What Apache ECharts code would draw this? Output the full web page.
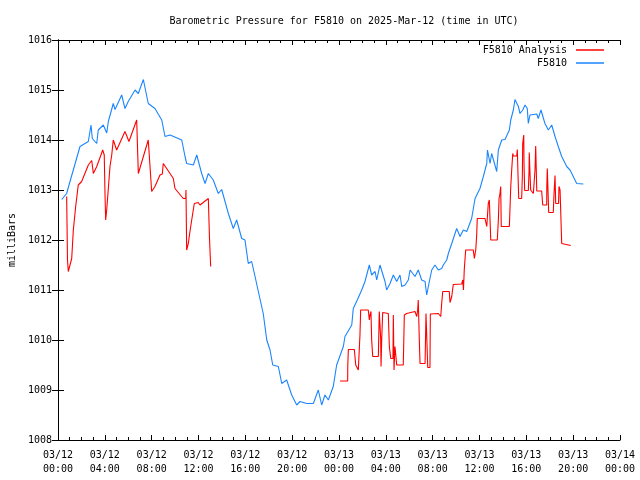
<!DOCTYPE html>
<html>
<head>
<meta charset="utf-8">
<script src="https://cdn.jsdelivr.net/npm/echarts@6/dist/echarts.min.js"></script>
<style>html,body{margin:0;padding:0;background:#fff}#c{width:640px;height:480px}</style>
</head>
<body>
<div id="c"></div>
<script>
// hours since 2025-03-12 00:00 UTC
var xTickLabels = ['03/12\n00:00','03/12\n04:00','03/12\n08:00','03/12\n12:00','03/12\n16:00','03/12\n20:00','03/13\n00:00','03/13\n04:00','03/13\n08:00','03/13\n12:00','03/13\n16:00','03/13\n20:00','03/14\n00:00'];

var obsHours = [0.32,0.74,0.94,1.88,2.59,2.82,2.93,3.31,3.44,3.87,4.16,4.30,4.72,4.87,5.44,5.72,6.00,6.58,6.86,7.29,7.71,8.28,8.86,9.14,9.57,10.57,10.85,10.99,11.56,11.85,12.27,12.56,12.84,13.26,13.69,13.98,14.55,14.97,15.26,15.69,15.97,16.25,16.54,16.83,17.11,17.53,17.83,18.11,18.34,18.82,19.11,19.53,19.96,20.39,20.67,21.24,21.81,22.23,22.52,22.80,23.09,23.51,23.80,24.37,24.51,25.09,25.22,25.56,25.94,26.22,26.59,26.79,27.08,27.22,27.50,27.93,28.07,28.36,28.64,28.93,29.21,29.36,29.64,29.92,30.07,30.49,30.77,31.06,31.35,31.49,31.63,31.92,32.20,32.48,32.77,32.91,33.20,33.34,33.63,33.91,34.05,34.34,34.62,34.91,35.33,35.62,36.04,36.33,36.62,36.68,36.90,37.04,37.47,37.61,37.90,38.18,38.55,38.67,38.89,39.03,39.32,39.46,39.69,39.89,40.08,40.17,40.31,40.89,41.02,41.25,41.59,41.88,42.17,42.45,42.73,43.02,43.45,43.73,44.01,44.30,44.87];
var obsValues = [1012.81,1012.93,1013.1,1013.87,1013.97,1014.3,1014.03,1013.93,1014.2,1014.3,1014.14,1014.37,1014.73,1014.61,1014.9,1014.63,1014.77,1015.0,1014.93,1015.21,1014.73,1014.63,1014.4,1014.07,1014.1,1014.0,1013.67,1013.53,1013.5,1013.7,1013.33,1013.13,1013.33,1013.2,1012.93,1013.01,1012.53,1012.23,1012.4,1012.03,1012.0,1011.53,1011.57,1011.27,1010.97,1010.53,1010.0,1009.8,1009.5,1009.47,1009.13,1009.2,1008.9,1008.7,1008.77,1008.73,1008.73,1009.0,1008.7,1008.9,1008.8,1009.07,1009.5,1009.87,1010.07,1010.3,1010.63,1010.8,1011.0,1011.17,1011.5,1011.3,1011.37,1011.2,1011.5,1011.17,1011.0,1011.13,1011.3,1011.17,1011.3,1011.07,1011.1,1011.2,1011.4,1011.27,1011.4,1011.2,1011.17,1010.9,1011.07,1011.4,1011.5,1011.4,1011.43,1011.5,1011.6,1011.73,1011.93,1012.13,1012.23,1012.07,1012.2,1012.17,1012.43,1012.83,1013.03,1013.27,1013.53,1013.8,1013.53,1013.73,1013.37,1013.8,1014.0,1014.01,1014.2,1014.4,1014.6,1014.81,1014.67,1014.53,1014.6,1014.7,1014.63,1014.33,1014.5,1014.52,1014.43,1014.6,1014.33,1014.2,1014.3,1014.07,1013.87,1013.67,1013.47,1013.4,1013.27,1013.13,1013.12];

var anaHours = [0.74,0.81,0.88,1.02,1.17,1.31,1.51,1.73,2.02,2.59,2.88,3.02,3.31,3.82,3.95,4.01,4.07,4.16,4.44,4.59,4.72,4.87,5.01,5.72,5.87,6.06,6.72,6.81,6.86,7.00,7.71,7.86,8.00,8.28,8.71,8.91,8.99,9.57,9.85,9.99,10.70,10.91,10.93,10.99,11.13,11.27,11.42,11.64,11.98,12.13,12.84,12.92,12.94,13.04,
  18.5,
  24.09,24.74,24.75,24.80,25.31,25.43,25.65,25.75,25.79,25.85,26.50,26.59,26.65,26.73,26.79,26.88,27.36,27.44,27.56,27.59,27.65,27.73,28.21,28.30,28.42,28.61,28.64,28.70,28.78,28.93,29.49,29.58,29.78,30.49,30.64,30.72,30.77,30.86,30.92,31.35,31.43,31.49,31.58,31.77,31.80,32.48,32.69,32.77,32.86,33.42,33.48,33.63,33.76,34.48,34.57,34.63,34.70,34.82,35.47,35.56,35.68,35.76,35.81,36.47,36.62,36.75,36.84,36.90,36.96,37.52,37.61,37.67,37.75,37.81,37.86,38.55,38.61,38.67,38.75,38.84,38.89,39.18,39.23,39.29,39.35,39.60,39.66,39.69,39.78,39.80,39.86,40.17,40.23,40.25,40.31,40.37,40.60,40.74,40.80,40.85,40.89,41.31,41.40,41.74,41.75,41.79,41.85,41.91,42.30,42.36,42.45,42.51,42.75,42.79,42.88,42.96,43.02,43.16,43.79];
var anaValues = [1012.87,1011.6,1011.37,1011.4,1011.63,1012.2,1012.67,1013.1,1013.17,1013.5,1013.59,1013.33,1013.47,1013.8,1013.7,1012.97,1012.4,1012.6,1013.47,1013.7,1014.0,1013.99,1013.8,1014.17,1014.21,1013.97,1014.4,1014.4,1013.33,1013.33,1014.0,1014.01,1012.97,1013.07,1013.3,1013.32,1013.53,1013.33,1013.23,1013.03,1012.83,1012.83,1013.0,1011.8,1011.93,1012.17,1012.4,1012.73,1012.75,1012.7,1012.83,1012.8,1012.03,1011.47,
  null,
  1009.18,1009.18,1009.5,1009.81,1009.81,1009.5,1009.4,1009.4,1010.1,1010.6,1010.6,1010.4,1010.5,1010.57,1010.0,1009.67,1009.67,1010.57,1010.03,1009.47,1010.03,1010.55,1010.53,1009.87,1009.63,1009.63,1010.5,1009.4,1009.87,1009.5,1009.5,1010.5,1010.53,1010.57,1010.47,1010.6,1010.8,1010.0,1009.53,1009.53,1010.53,1010.1,1009.45,1009.45,1010.52,1010.53,1010.47,1010.73,1010.97,1010.97,1010.75,1010.87,1011.11,1011.12,1011.2,1011.0,1011.41,1011.8,1011.8,1011.63,1011.8,1012.1,1012.43,1012.43,1012.27,1012.73,1012.8,1012.4,1012.0,1012.0,1012.4,1012.83,1012.93,1013.07,1012.27,1012.27,1012.67,1013.07,1013.4,1013.73,1013.68,1013.68,1013.81,1013.3,1012.83,1012.83,1013.27,1013.93,1014.1,1013.53,1012.99,1012.99,1013.37,1013.75,1013.35,1013.0,1012.93,1013.4,1013.88,1013.4,1012.98,1012.98,1012.7,1012.7,1013.07,1013.43,1013.0,1012.55,1012.55,1012.9,1013.29,1012.73,1012.73,1013.07,1013.0,1012.4,1011.93,1011.89,1011.89];

function zip(a, b) { return a.map(function (v, i) { return [v, b[i]]; }); }

var FONT = 'DejaVu Sans Mono';
var RED = '#ff0000', BLUE = '#1a85ff';
var chart = echarts.init(document.getElementById('c'), null, {renderer: 'canvas'});
var axisLine = {show: true, lineStyle: {color: '#000', width: 1}};
function legendFor(name, top) {
  return {data: [name], right: 31, top: top, align: 'right', icon: 'rect',
    itemWidth: 28, itemHeight: 1.5, itemGap: 0,
    textStyle: {fontFamily: FONT, fontSize: 10, color: '#000', padding: [0, 4, 0, 0]}};
}
var option = {
  animation: false,
  backgroundColor: '#fff',
  textStyle: {fontFamily: FONT, fontSize: 10, color: '#000'},
  title: {
    text: 'Barometric Pressure for F5810 on 2025-Mar-12 (time in UTC)',
    left: 339, top: 11, textAlign: 'center',
    textStyle: {fontFamily: FONT, fontSize: 10, fontWeight: 'normal', color: '#000'}
  },
  legend: [legendFor('F5810 Analysis', 40), legendFor('F5810', 53)],
  grid: {left: 58, right: 20, top: 40, bottom: 40, outerBoundsMode: 'none', containLabel: false},
  xAxis: [
    {type: 'value', min: 0, max: 48, interval: 4, position: 'bottom',
     axisLine: axisLine,
     axisTick: {show: true, inside: true, length: 5, lineStyle: {color: '#000'}},
     minorTick: {show: true, splitNumber: 4, length: 3, lineStyle: {color: '#000'}},
     splitLine: {show: false},
     axisLabel: {margin: 8, lineHeight: 14, fontFamily: FONT, fontSize: 10, color: '#000',
       formatter: function (v) { return xTickLabels[Math.round(v / 4)]; }}},
    {type: 'value', min: 0, max: 48, interval: 4, position: 'top',
     axisLine: axisLine,
     axisTick: {show: true, inside: true, length: 5, lineStyle: {color: '#000'}},
     minorTick: {show: true, splitNumber: 4, length: 3, lineStyle: {color: '#000'}},
     splitLine: {show: false}, axisLabel: {show: false}}
  ],
  yAxis: [
    {type: 'value', min: 1008, max: 1016, interval: 1, position: 'left',
     name: 'milliBars', nameLocation: 'middle', nameGap: 38,
     nameTextStyle: {fontFamily: FONT, fontSize: 10, color: '#000'},
     axisLine: axisLine,
     axisTick: {show: true, inside: true, length: 6, lineStyle: {color: '#000'}},
     splitLine: {show: false},
     axisLabel: {margin: 6, fontFamily: FONT, fontSize: 10, color: '#000',
       formatter: function (v) { return String(v); }}},
    {type: 'value', min: 1008, max: 1016, interval: 1, position: 'right',
     axisLine: axisLine,
     axisTick: {show: true, inside: true, length: 6, lineStyle: {color: '#000'}},
     splitLine: {show: false}, axisLabel: {show: false}}
  ],
  series: [
    {name: 'F5810 Analysis', type: 'line', xAxisIndex: 0, yAxisIndex: 0,
     data: zip(anaHours, anaValues), symbol: 'none', showSymbol: false, connectNulls: false,
     itemStyle: {color: RED}, lineStyle: {color: RED, width: 1.1}, z: 3},
    {name: 'F5810', type: 'line', xAxisIndex: 0, yAxisIndex: 0,
     data: zip(obsHours, obsValues), symbol: 'none', showSymbol: false,
     itemStyle: {color: BLUE}, lineStyle: {color: BLUE, width: 1.1}, z: 2}
  ]
};
chart.setOption(option);
</script>
</body>
</html>
